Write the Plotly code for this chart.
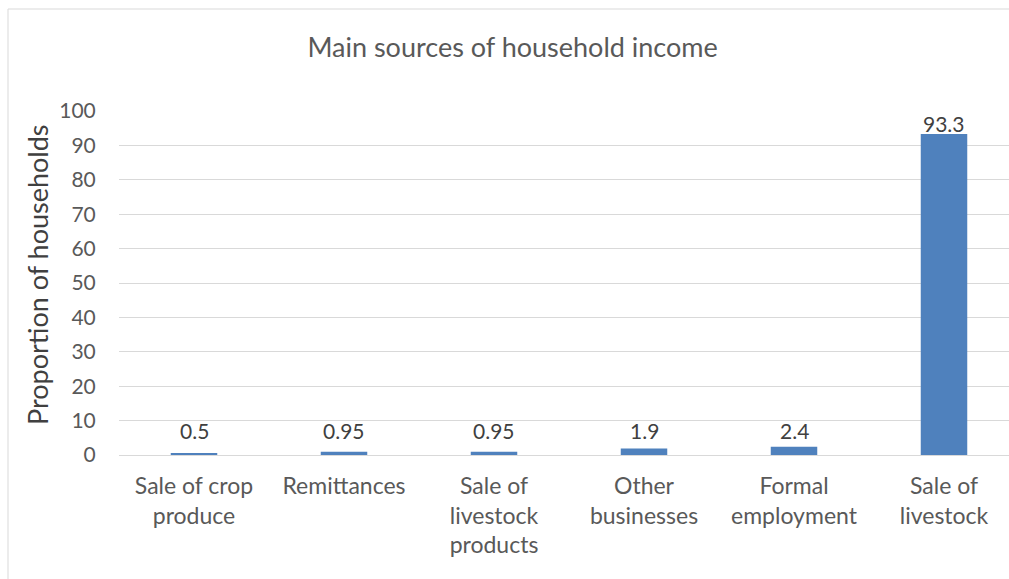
import plotly.graph_objects as go

categories = ["Sale of crop<br>produce", "Remittances", "Sale of<br>livestock<br>products",
              "Other<br>businesses", "Formal<br>employment", "Sale of<br>livestock"]
values = [0.5, 0.95, 0.95, 1.9, 2.4, 93.3]
labels = ["0.5", "0.95", "0.95", "1.9", "2.4", "93.3"]

FONT = "Lato, Carlito, Calibri, sans-serif"
TXT = "#595959"

fig = go.Figure(go.Bar(
    x=list(range(len(categories))), y=values,
    marker=dict(color="#4F81BD", line=dict(width=0)),
    width=0.31, hoverinfo="x+y",
))

# data labels, kept clear of the axis for very short bars (as the original does)
annotations = [dict(x=i, y=max(v, 4), xref="x", yref="y", text=t, showarrow=False,
                    yanchor="middle", yshift=11,
                    font=dict(family=FONT, size=21, color="#404040"))
               for i, (v, t) in enumerate(zip(values, labels))]

# y-axis title
annotations.append(dict(text="Proportion of households", textangle=-90, showarrow=False,
                        xref="paper", yref="paper", x=(37 - 119) / 890, y=(455 - 275) / 344,
                        xanchor="center", yanchor="middle",
                        font=dict(family=FONT, size=27, color="#404040")))

fig.update_layout(
    width=1009, height=579,
    margin=dict(l=119, r=0, t=111, b=124),
    paper_bgcolor="white", plot_bgcolor="white",
    showlegend=False,
    font=dict(family=FONT, color=TXT),
    annotations=annotations,
    title=dict(text="Main sources of household income", x=0.508, xref="container",
               xanchor="center", y=1 - 48 / 579, yanchor="middle", yref="container",
               font=dict(family=FONT, size=27, color=TXT)),
    xaxis=dict(tickmode="array", tickvals=list(range(len(categories))), ticktext=categories,
               range=[-0.5, -0.5 + 890 / 150], showgrid=False, zeroline=False,
               showline=False, ticks="outside", ticklen=10, tickcolor="rgba(0,0,0,0)",
               tickfont=dict(family=FONT, size=23, color=TXT)),
    yaxis=dict(range=[0, 100], dtick=10, showgrid=True, gridcolor="#D9D9D9", gridwidth=1,
               zeroline=True, zerolinecolor="#D9D9D9", zerolinewidth=1,
               ticks="outside", ticklen=18, tickcolor="rgba(0,0,0,0)",
               tickfont=dict(family=FONT, size=21, color=TXT)),
    shapes=[dict(type="rect", xref="paper", yref="paper", x0=(8 - 119) / 890, x1=1.2,
                 y0=-(579 - 455 + 10) / 344, y1=(455 - 9) / 344,
                 line=dict(color="#D9D9D9", width=1), fillcolor="rgba(0,0,0,0)", layer="below")],
)

fig.write_html("out.html")
